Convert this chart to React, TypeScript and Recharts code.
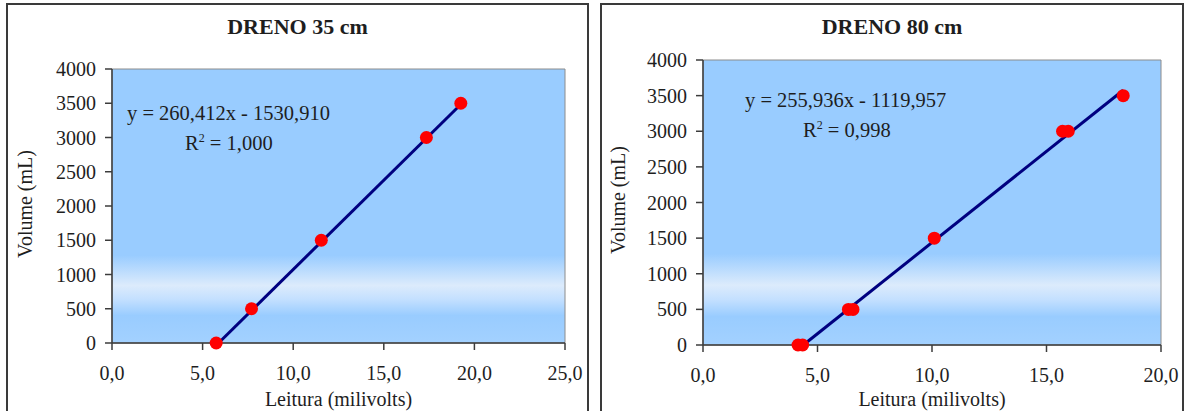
import React from "react";
import {
  ScatterChart,
  Scatter,
  XAxis,
  YAxis,
  ReferenceArea,
  ReferenceLine,
} from "recharts";

// DRENO 35 cm - leituras (mV) x volume (mL)
const dreno35Leitura = [5.75, 7.7, 11.55, 17.35, 19.25];
const dreno35Volume = [0, 500, 1500, 3000, 3500];
const dreno35TrendX = [5.88, 19.2];
const dreno35TrendY = [0, 3470];
const dreno35XTicks = [0, 5, 10, 15, 20, 25];

// DRENO 80 cm
const dreno80Leitura = [4.15, 4.35, 6.35, 6.55, 10.1, 15.7, 15.95, 18.35];
const dreno80Volume = [0, 0, 500, 500, 1500, 3000, 3000, 3500];
const dreno80TrendX = [4.38, 18.35];
const dreno80TrendY = [0, 3576];
const dreno80XTicks = [0, 5, 10, 15, 20];

const yTicks = [0, 500, 1000, 1500, 2000, 2500, 3000, 3500, 4000];

const FONT = "Liberation Serif";
const AXIS = "#3c3c3c";
const TEXT = "#1e1e1e";

const fmtX = (v: number) => v.toFixed(1).replace(".", ",");

const Dot = (props: any) => (
  <circle cx={props.cx} cy={props.cy} r={6.5} fill="#ff0000" />
);

type Pos = { left: number; top: number };

type PanelProps = {
  id: string;
  left: number;
  width: number;
  title: string;
  xs: number[];
  ys: number[];
  trendX: number[];
  trendY: number[];
  xTicks: number[];
  margin: { top: number; right: number; bottom: number; left: number };
  eq: string;
  r2: string;
  eqPos: Pos;
  r2Pos: Pos;
  yLabel: Pos;
};

const Panel: React.FC<PanelProps> = (p) => {
  const data = p.xs.map((x, i) => ({ x, y: p.ys[i] }));
  const xMax = p.xTicks[p.xTicks.length - 1];
  const inner = p.width - 4;
  const plotCenter =
    p.margin.left + 60 + (inner - p.margin.left - 60 - p.margin.right) / 2;

  return (
    <div
      style={{
        position: "absolute",
        left: p.left,
        top: 3,
        width: p.width,
        height: 420,
        border: "2px solid #3a3a3a",
        boxSizing: "border-box",
        background: "#fff",
        fontFamily: FONT,
        color: TEXT,
      }}
    >
      <div
        style={{
          position: "absolute",
          top: 9,
          left: 0,
          width: "100%",
          textAlign: "center",
          fontWeight: "bold",
          fontSize: 22,
          lineHeight: "25px",
        }}
      >
        {p.title}
      </div>
      <div
        style={{
          position: "absolute",
          left: p.yLabel.left - 70,
          top: p.yLabel.top - 11,
          width: 140,
          textAlign: "center",
          fontSize: 20,
          lineHeight: "22px",
          transform: "rotate(-90deg)",
        }}
      >
        Volume (mL)
      </div>
      <div
        style={{
          position: "absolute",
          left: plotCenter - 110,
          top: 383,
          width: 220,
          textAlign: "center",
          fontSize: 20,
          lineHeight: "22px",
        }}
      >
        Leitura (milivolts)
      </div>

      <ScatterChart
        width={inner}
        height={406}
        margin={p.margin}
        style={{ position: "absolute", left: 0, top: 0, fontFamily: FONT }}
      >
        <defs>
          <linearGradient id={p.id} x1="0" y1="0" x2="0" y2="1">
            <stop offset="0" stopColor="#99ccff" />
            <stop offset="0.68" stopColor="#99ccff" />
            <stop offset="0.79" stopColor="#dcebfc" />
            <stop offset="0.84" stopColor="#c4e0ff" />
            <stop offset="0.9" stopColor="#99ccff" />
            <stop offset="1" stopColor="#a3d1ff" />
          </linearGradient>
        </defs>
        <XAxis
          type="number"
          dataKey="x"
          domain={[0, xMax]}
          ticks={p.xTicks}
          tickFormatter={fmtX}
          height={30}
          stroke={AXIS}
          strokeWidth={1.5}
          tickSize={7}
          tickMargin={16}
          tick={{ fill: TEXT, fontSize: 20, fontFamily: FONT }}
          interval={0}
        />
        <YAxis
          type="number"
          dataKey="y"
          domain={[0, 4000]}
          ticks={yTicks}
          width={60}
          stroke={AXIS}
          strokeWidth={1.5}
          tickSize={7}
          tickMargin={9}
          tick={{ fill: TEXT, fontSize: 20, fontFamily: FONT }}
          interval={0}
        />
        <ReferenceArea
          x1={0}
          x2={xMax}
          y1={0}
          y2={4000}
          fill={`url(#${p.id})`}
          fillOpacity={1}
          stroke="#8c8c8c"
          strokeWidth={1}
        />
        <Scatter data={data} shape={Dot} isAnimationActive={false} />
        <ReferenceLine
          segment={[
            { x: p.trendX[0], y: p.trendY[0] },
            { x: p.trendX[1], y: p.trendY[1] },
          ]}
          stroke="#000080"
          strokeWidth={3}
        />
      </ScatterChart>

      <div
        style={{
          position: "absolute",
          left: p.eqPos.left,
          top: p.eqPos.top,
          fontSize: 20.5,
          lineHeight: "24px",
          whiteSpace: "nowrap",
        }}
      >
        {p.eq}
      </div>
      <div
        style={{
          position: "absolute",
          left: p.r2Pos.left,
          top: p.r2Pos.top,
          fontSize: 20.5,
          lineHeight: "24px",
          whiteSpace: "nowrap",
        }}
      >
        R<sup style={{ fontSize: 12, lineHeight: 0 }}>2</sup> = {p.r2}
      </div>
    </div>
  );
};

export default function App() {
  return (
    <div
      style={{
        position: "absolute",
        left: 0,
        top: 0,
        width: 1190,
        height: 411,
        overflow: "hidden",
        background: "#fff",
      }}
    >
      <Panel
        id="bg35"
        left={6}
        width={583}
        title="DRENO 35 cm"
        xs={dreno35Leitura}
        ys={dreno35Volume}
        trendX={dreno35TrendX}
        trendY={dreno35TrendY}
        xTicks={dreno35XTicks}
        margin={{ top: 64, right: 22, bottom: 38, left: 44 }}
        eq="y = 260,412x - 1530,910"
        r2="1,000"
        eqPos={{ left: 119, top: 96 }}
        r2Pos={{ left: 177, top: 126 }}
        yLabel={{ left: 17, top: 199 }}
      />
      <Panel
        id="bg80"
        left={600}
        width={584}
        title="DRENO 80 cm"
        xs={dreno80Leitura}
        ys={dreno80Volume}
        trendX={dreno80TrendX}
        trendY={dreno80TrendY}
        xTicks={dreno80XTicks}
        margin={{ top: 55, right: 21, bottom: 36, left: 41 }}
        eq="y = 255,936x - 1119,957"
        r2="0,998"
        eqPos={{ left: 143, top: 83 }}
        r2Pos={{ left: 201, top: 113 }}
        yLabel={{ left: 16, top: 195 }}
      />
    </div>
  );
}
